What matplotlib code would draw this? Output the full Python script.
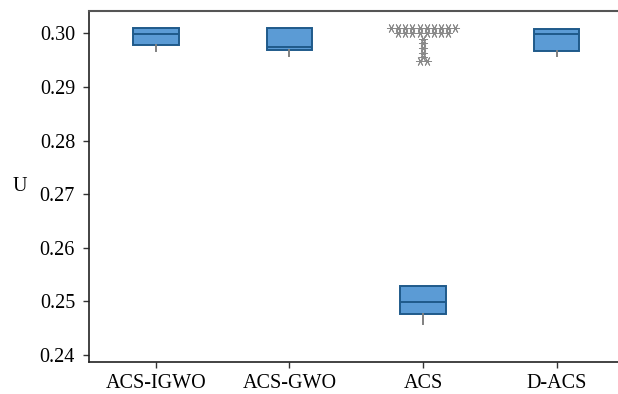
import matplotlib
matplotlib.use("Agg")
import matplotlib.pyplot as plt
import numpy as np

categories = ["ACS-IGWO", "ACS-GWO", "ACS", "D-ACS"]
q1 = [0.2978, 0.2968, 0.2477, 0.2967]
med = [0.2998, 0.2975, 0.2498, 0.2998]
q3 = [0.3009, 0.3009, 0.2528, 0.3008]
whislo = [0.2967, 0.2957, 0.2458, 0.2957]
whishi = [0.3009, 0.3009, 0.2528, 0.3008]

# ACS outliers: value and number of repeated observations
acs_out_values = [0.3010, 0.3000, 0.2990, 0.2982, 0.2973, 0.2964, 0.2956, 0.2948]
acs_out_counts = [10, 8, 1, 1, 1, 1, 1, 2]

yticks = [0.24, 0.25, 0.26, 0.27, 0.28, 0.29, 0.30]

plt.rcParams['font.family'] = ['Liberation Serif', 'DejaVu Serif']

fig = plt.figure(figsize=(6.18, 3.94), dpi=100)
ax = fig.add_axes([89/618, 1-362/394, 1-89/618, (362-11)/394])

stats = []
for i, c in enumerate(categories):
    stats.append(dict(label=c, q1=q1[i], med=med[i], q3=q3[i],
                      whislo=whislo[i], whishi=whishi[i], fliers=[]))

pos = np.arange(len(categories))
ax.bxp(stats, positions=pos, widths=0.34, patch_artist=True, showcaps=False,
       boxprops=dict(facecolor="#5b9bd5", edgecolor="#1f5a8a", linewidth=1.4),
       medianprops=dict(color="#1f5a8a", linewidth=1.4),
       whiskerprops=dict(color="#808080", linewidth=1.4),
       showfliers=False)

# asterisk outliers stacked horizontally for duplicates
step = 0.053
xs, ys = [], []
for v, n in zip(acs_out_values, acs_out_counts):
    offs = (np.arange(n) - (n - 1) / 2) * step
    xs.extend(2 + offs)
    ys.extend([v] * n)
ax.plot(xs, ys, linestyle="none", marker=(6, 2, 90), markersize=6.5,
        markeredgecolor="#8a8a8a", markeredgewidth=0.7, color="#8a8a8a")

ax.set_xlim(-0.5, 3.459)
ax.set_ylim(0.2387, 0.30416)
ax.set_xticks(pos)
ax.set_xticklabels(categories, fontsize=14.5)
ax.set_yticks(yticks)
ax.set_yticklabels([f"{t:.2f}" for t in yticks], fontsize=14.5)
ax.tick_params(axis="both", direction="out", length=4, width=1, color="#333333")
ax.tick_params(axis="y", pad=6)
ax.tick_params(axis="x", pad=5)
ax.set_ylabel("U", fontsize=14.5, rotation=0, va="center")
ax.yaxis.set_label_coords(-0.13, 0.50)

ax.spines["right"].set_visible(False)
for s in ["left", "bottom"]:
    ax.spines[s].set_color("#222222")
    ax.spines[s].set_linewidth(1.2)
ax.spines["top"].set_color("#555555")
ax.spines["top"].set_linewidth(1.5)

fig.savefig("out.png", dpi=100)
